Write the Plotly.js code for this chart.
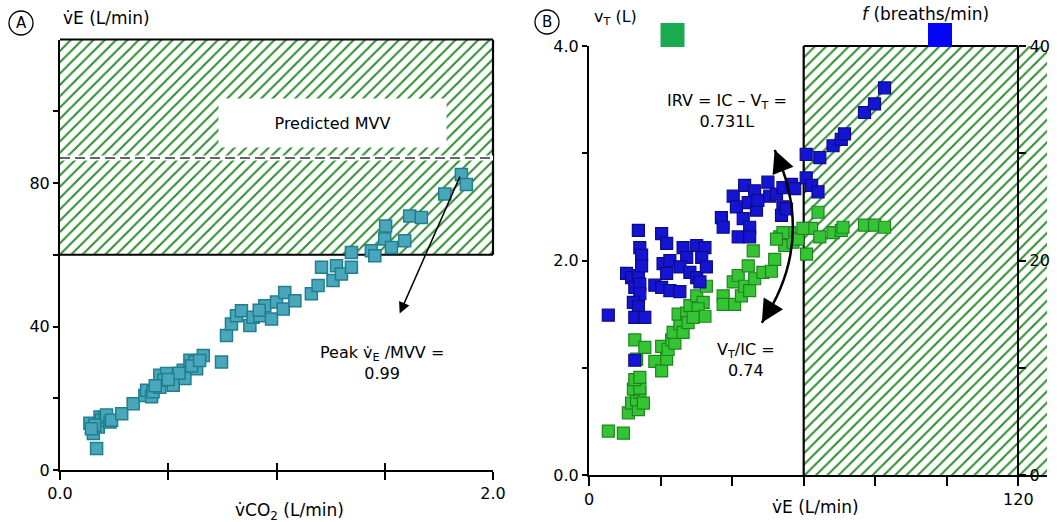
<!DOCTYPE html>
<html><head><meta charset="utf-8">
<script src="https://cdn.plot.ly/plotly-3.0.1.min.js"></script>
<style>html,body{margin:0;padding:0;background:#fff}#chart{width:1058px;height:522px}</style>
</head><body><div id="chart"></div>
<script>
// ---------- Panel A data: VCO2 (L/min) vs VE (L/min) ----------
const vco2 = [0.169,0.154,0.138,0.177,0.185,0.192,0.208,0.215,0.231,0.238,0.160,0.145,
  0.285,0.338,0.392,0.400,0.423,0.430,0.461,0.461,0.492,0.480,0.523,0.569,0.577,0.550,
  0.600,0.623,0.631,0.608,0.662,0.645,0.746,0.769,0.792,0.815,0.838,0.877,0.892,0.923,
  0.946,0.977,1.000,1.031,1.038,1.085,1.161,1.192,1.208,1.261,1.277,1.300,1.346,1.346,
  1.438,1.454,1.500,1.504,1.531,1.592,1.615,1.669,1.777,1.854,1.877,0.440,0.500,0.920];
const veA = [6.0,10.2,13.0,12.0,14.8,13.9,14.8,15.3,13.4,13.9,12.5,11.5,
  15.7,18.5,20.8,22.2,20.4,21.8,23.1,26.4,26.9,25.0,23.6,27.8,25.5,27.0,
  30.6,30.1,28.2,29.0,31.9,30.5,30.1,37.5,40.7,43.0,44.4,40.3,42.6,43.0,
  45.8,42.1,46.8,44.9,49.5,47.2,49.1,51.4,56.5,52.8,56.9,54.6,56.5,60.6,
  61.1,59.7,64.4,68.0,62.0,63.9,70.8,70.4,76.9,82.4,79.6,23.5,25.2,44.5];
const aXTicks = [0, 0.5, 1.0, 1.5, 2.0];
const aXLabels = ['0.0', '', '', '', '2.0'];
const aYTicks = [0, 20, 40, 60, 80, 100];
const aYLabels = ['0', '', '40', '', '80', ''];
const aXRange = [0, 2.0];
const aYRange = [0, 120];
const aZoneY = [60, 120];          // hatched zone (ventilatory reserve region)
const predictedMVV = 87;
const peakPoint = [1.85, 82.2];    // arrow tail (peak VE)
const peakArrowHead = [1.569, 43.6];

// ---------- Panel B data: VE (L/min) vs VT (L) and f (breaths/min) ----------
const veGreen = [5.4,9.6,11,11.9,13.8,13.3,14.2,12.4,14.2,12.8,14.2,15.2,13.3,12.8,15.6,18.4,20.3,21.7,20.3,22.1,
  23.1,24,23.5,25.4,24.9,27.3,26.3,27.7,28.2,30.1,31.9,30.5,32.4,32.8,29.1,37.5,37.5,40.7,40.3,41.7,
  42.6,43.5,44.5,44.9,46.3,45.9,48.6,51,51.9,53.3,54.7,56.1,57,58.4,60.8,62.2,59.8,64,64.5,68.2,
  70.5,71,77,79.8,82.6,54.2,52.4];
const vtGreen = [0.41,0.39,0.58,0.67,0.61,0.70,0.77,0.80,0.81,0.89,0.91,0.67,1.08,1.26,1.19,1.06,0.97,1.08,1.20,1.17,
  1.26,1.23,1.33,1.41,1.50,1.51,1.33,1.42,1.58,1.67,1.61,1.55,1.48,1.76,1.47,1.67,1.59,1.59,1.80,1.86,
  1.67,1.76,1.95,1.72,1.83,2.09,1.89,1.90,2.01,2.22,2.14,2.26,2.17,2.20,2.06,2.30,2.30,2.45,2.22,2.26,
  2.28,2.31,2.33,2.33,2.31,2.26,2.20];
const veBlue = [5.4,13.8,14.2,14.7,10.5,11.9,13.8,12.8,14.2,14.2,12.4,13.8,12.8,15.6,14.7,12.8,20.3,21.7,20.7,22.6,
  21.7,18.4,20.3,22.6,25.4,26.3,27.3,25.4,28.2,30.1,30.1,32.4,31.5,32.8,31,37,37.5,40.3,41.2,43.1,
  41.7,44.9,44.9,43.5,46.3,44.5,46.8,47.2,50,50.5,52.4,54.2,54.2,53.8,56.6,57.5,60.7,64.5,68.2,70.5,
  71.4,77,79.8,82.6,60.7,62.2,64,55.2];
const fBlue = [14.9,22.8,21.2,20.5,18.8,18.4,18.6,17.5,17.8,16.9,16.1,15.7,14.7,14.7,19.5,10.7,22.5,21.6,19.7,20,
  18.8,17.7,17.5,17.2,17.1,21.2,20.3,19.4,18.9,18.4,21.4,21.2,20.3,19.4,18,24,23.1,26,25,23.9,
  22.2,23.1,22.2,27,26.5,25.4,24.7,25.6,27.3,26,26.2,26.8,25,24.2,27.1,26.7,29.9,29.6,30.7,31.3,
  31.8,33.8,34.6,36.1,27.7,27,26.4,24.8];
const bXTicks = [0, 20, 40, 60, 80, 100, 120];
const bXLabels = ['0', '', '', '', '', '', '120'];
const bYTicks = [0, 1, 2, 3, 4];
const bYLabels = ['0.0', '', '2.0', '', '4.0'];
const fTicks = [0, 10, 20, 30, 40];
const fLabels = ['0', '', '20', '', '40'];
const bXRange = [0, 128];
const bYRange = [0, 4.0];
const fRange = [0, 40];
const bZoneX = [60, 120];          // hatched zone from 60 L/min, bordered to 120
const bArc = {p0: [51.9, 3.03], c: [63.6, 2.18], p2: [48.3, 1.42]}; // double-headed arrow

// ---------- geometry ----------
const W = 1058, H = 522;
const FONT = 'DejaVu Sans';
const px = v => v / W, py = v => (H - v) / H;
const aDomX = [px(60), px(493)], aDomY = [py(470), py(39.5)];
const bDomX = [px(589), px(1047)], bDomY = [py(475), py(46)];
const fAxisPos = bDomX[0] + (bZoneX[1] - bXRange[0]) / (bXRange[1] - bXRange[0]) * (bDomX[1] - bDomX[0]);

const hatch = {shape: '/', fgcolor: '#2f8f2f', bgcolor: 'white', size: 8, solidity: 0.26};
const teal = {fill: '#4aa7bb', line: '#1f7f8e'};

function bez(t) {
  const a = (1 - t) * (1 - t), b = 2 * t * (1 - t), c = t * t;
  return [a * bArc.p0[0] + b * bArc.c[0] + c * bArc.p2[0], a * bArc.p0[1] + b * bArc.c[1] + c * bArc.p2[1]];
}

const traces = [
  {x: [aXRange[0], aXRange[1], aXRange[1], aXRange[0]], y: [aZoneY[0], aZoneY[0], aZoneY[1], aZoneY[1]],
   xaxis: 'x', yaxis: 'y', mode: 'lines', fill: 'toself', fillcolor: 'white', fillpattern: hatch,
   line: {width: 0}, hoverinfo: 'skip', showlegend: false},
  {x: [bZoneX[0], bXRange[1], bXRange[1], bZoneX[0]], y: [bYRange[0], bYRange[0], bYRange[1], bYRange[1]],
   xaxis: 'x2', yaxis: 'y2', mode: 'lines', fill: 'toself', fillcolor: 'white', fillpattern: hatch,
   line: {width: 0}, hoverinfo: 'skip', showlegend: false},
  {x: aXRange, y: [aZoneY[0], aZoneY[0]], xaxis: 'x', yaxis: 'y', mode: 'lines',
   line: {color: 'black', width: 2.2}, hoverinfo: 'skip', showlegend: false},
  {x: [bZoneX[0], bZoneX[0]], y: bYRange, xaxis: 'x2', yaxis: 'y2', mode: 'lines',
   line: {color: 'black', width: 2.2}, hoverinfo: 'skip', showlegend: false},
  {x: vco2, y: veA, xaxis: 'x', yaxis: 'y', mode: 'markers', showlegend: false,
   marker: {symbol: 'square', size: 12, color: teal.fill, line: {color: teal.line, width: 1.5}}},
  {x: veBlue, y: fBlue, xaxis: 'x2', yaxis: 'y3', mode: 'markers', showlegend: false,
   marker: {symbol: 'square', size: 12, color: '#1414d2', line: {color: '#0c0c86', width: 1.2}}},
  {x: veGreen, y: vtGreen, xaxis: 'x2', yaxis: 'y2', mode: 'markers', showlegend: false,
   marker: {symbol: 'square', size: 12, color: '#34c434', line: {color: '#1f861f', width: 1.2}}},
  {x: [], y: [], xaxis: 'x3', yaxis: 'y', mode: 'markers', showlegend: false}
];

const axBase = {showgrid: false, zeroline: false, showline: true, linecolor: 'black', linewidth: 2,
  ticks: 'outside', tickcolor: 'black', tickwidth: 2, tickmode: 'array', fixedrange: true,
  tickfont: {family: FONT, size: 16, color: 'black'}};

function note(o) { return Object.assign({showarrow: false, xanchor: 'center', yanchor: 'middle'}, o); }

const layout = {
  width: W, height: H, margin: {l: 0, r: 0, t: 0, b: 0},
  paper_bgcolor: 'white', plot_bgcolor: 'rgba(0,0,0,0)', showlegend: false,
  font: {family: FONT, size: 16, color: 'black'},
  xaxis: Object.assign({}, axBase, {domain: aDomX, range: aXRange, anchor: 'y', tickvals: aXTicks, ticktext: aXLabels, ticklen: 8}),
  yaxis: Object.assign({}, axBase, {domain: aDomY, range: aYRange, anchor: 'x', tickvals: aYTicks, ticktext: aYLabels, ticklen: 5}),
  xaxis3: Object.assign({}, axBase, {overlaying: 'x', anchor: 'y', range: aXRange, tickvals: aXTicks, ticks: 'inside', ticklen: 7, showticklabels: false, showline: false}),
  xaxis2: Object.assign({}, axBase, {domain: bDomX, range: bXRange, anchor: 'y2', tickvals: bXTicks, ticktext: bXLabels, ticklen: 9}),
  yaxis2: Object.assign({}, axBase, {domain: bDomY, range: bYRange, anchor: 'x2', tickvals: bYTicks, ticktext: bYLabels, ticklen: 5}),
  yaxis3: Object.assign({}, axBase, {overlaying: 'y2', anchor: 'free', position: fAxisPos, side: 'right', range: fRange, tickvals: fTicks, ticktext: fLabels, ticklen: 7}),
  shapes: [
    {type: 'line', xref: 'x domain', yref: 'y domain', x0: 0, x1: 1, y0: 1, y1: 1, line: {color: 'black', width: 2.2}},
    {type: 'line', xref: 'x domain', yref: 'y', x0: 1, x1: 1, y0: aZoneY[0], y1: aZoneY[1], line: {color: 'black', width: 2.2}},
    {type: 'line', xref: 'x', yref: 'y', x0: aXRange[0], x1: aXRange[1], y0: predictedMVV, y1: predictedMVV, line: {color: 'white', width: 5}},
    {type: 'line', xref: 'x', yref: 'y', x0: aXRange[0], x1: aXRange[1], y0: predictedMVV, y1: predictedMVV, line: {color: '#333', width: 1.5, dash: '10px,5px'}},
    {type: 'line', xref: 'x2', yref: 'y2 domain', x0: bZoneX[0], x1: bZoneX[1], y0: 1, y1: 1, line: {color: 'black', width: 2.2}},
    {type: 'path', xref: 'x2', yref: 'y2', line: {color: 'black', width: 2.5},
     path: `M ${bArc.p0[0]},${bArc.p0[1]} Q ${bArc.c[0]},${bArc.c[1]} ${bArc.p2[0]},${bArc.p2[1]}`},
    {type: 'circle', xref: 'paper', yref: 'paper', x0: px(9), x1: px(33), y0: py(35), y1: py(11), line: {color: 'black', width: 1.3}},
    {type: 'circle', xref: 'paper', yref: 'paper', x0: px(535), x1: px(559), y0: py(34), y1: py(10), line: {color: 'black', width: 1.3}},
    {type: 'rect', xref: 'paper', yref: 'paper', x0: px(660.5), x1: px(684.5), y0: py(47), y1: py(23), fillcolor: '#1aab50', line: {width: 0}},
    {type: 'rect', xref: 'paper', yref: 'paper', x0: px(928), x1: px(952), y0: py(47), y1: py(23), fillcolor: '#0505f5', line: {width: 0}}
  ],
  annotations: [
    note({xref: 'paper', yref: 'paper', x: px(21), y: py(23), text: 'A', font: {size: 15}}),
    note({xref: 'paper', yref: 'paper', x: px(547), y: py(22), text: 'B', font: {size: 15}}),
    note({xref: 'paper', yref: 'paper', x: px(61), y: py(18), xanchor: 'left', text: 'v\u0307E (L/min)', font: {size: 17}}),
    note({xref: 'paper', yref: 'paper', x: px(289), y: py(511), text: 'v\u0307CO<sub>2</sub> (L/min)', font: {size: 17}}),
    note({xref: 'paper', yref: 'paper', x: px(815), y: py(507), text: 'v\u0307E (L/min)', font: {size: 17}}),
    note({xref: 'paper', yref: 'paper', x: px(592), y: py(18), xanchor: 'left', text: 'v<sub>T</sub> (L)', font: {size: 16}}),
    note({xref: 'paper', yref: 'paper', x: px(860), y: py(14), xanchor: 'left', text: '<i>f</i> (breaths/min)', font: {size: 17}}),
    note({xref: 'x', yref: 'y', x: 1.257, y: 96.7, text: 'Predicted MVV', bgcolor: 'white', width: 225, height: 46, font: {size: 16}}),
    {xref: 'x', yref: 'y', x: peakArrowHead[0], y: peakArrowHead[1], axref: 'x', ayref: 'y', ax: peakPoint[0], ay: peakPoint[1],
     text: '', showarrow: true, arrowhead: 2, arrowsize: 1.5, arrowwidth: 1.5, arrowcolor: 'black'},
    note({xref: 'x', yref: 'y', x: 1.486, y: 29.7, text: 'Peak v\u0307<sub>E</sub> /MVV =<br>0.99', font: {size: 16}}),
    note({xref: 'x2', yref: 'y2', x: 38.5, y: 3.39, text: 'IRV = IC \u2013 V<sub>T</sub> =<br>0.731L', font: {size: 16}}),
    note({xref: 'x2', yref: 'y2', x: 43.8, y: 1.07, text: 'V<sub>T</sub>/IC =<br>0.74', font: {size: 16}}),
    {xref: 'x2', yref: 'y2', x: bArc.p0[0], y: bArc.p0[1], axref: 'x2', ayref: 'y2', ax: bez(0.12)[0], ay: bez(0.12)[1],
     text: '', showarrow: true, arrowhead: 2, arrowsize: 1.8, arrowwidth: 2.5, arrowcolor: 'black'},
    {xref: 'x2', yref: 'y2', x: bArc.p2[0], y: bArc.p2[1], axref: 'x2', ayref: 'y2', ax: bez(0.88)[0], ay: bez(0.88)[1],
     text: '', showarrow: true, arrowhead: 2, arrowsize: 1.8, arrowwidth: 2.5, arrowcolor: 'black'}
  ]
};

Plotly.newPlot('chart', traces, layout, {staticPlot: true, displayModeBar: false});
</script>
</body></html>
